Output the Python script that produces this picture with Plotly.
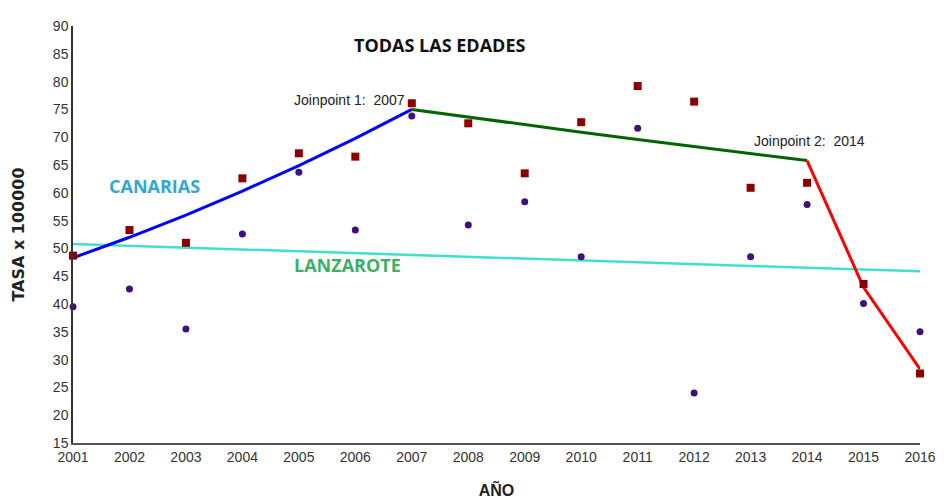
import plotly.graph_objects as go

years = list(range(2001, 2017))
canarias = [48.7, 53.3, 51.0, 62.6, 67.1, 66.5, 76.1, 72.5, 63.5, 72.7, 79.2, 76.4, 60.9, 61.8, 43.6, 27.5]
lanzarote = [39.5, 42.7, 35.5, 52.6, 63.7, 53.3, 73.8, 54.2, 58.4, 48.5, 71.6, 24.0, 48.5, 57.9, 40.1, 35.0]

seg1_years = [2001, 2002, 2003, 2004, 2005, 2006, 2007]
seg1_fit = [48.3, 52.0, 56.0, 60.3, 64.9, 69.8, 75.0]
seg2_years = [2007, 2008, 2009, 2010, 2011, 2012, 2013, 2014]
seg2_fit = [75.0, 73.6, 72.2, 70.9, 69.6, 68.3, 67.0, 65.8]
seg3_years = [2014, 2015, 2016]
seg3_fit = [65.8, 43.0, 28.3]
lanz_fit = [50.8, 50.46, 50.12, 49.78, 49.44, 49.11, 48.78, 48.45, 48.12, 47.80,
            47.48, 47.16, 46.84, 46.53, 46.21, 45.90]

fig = go.Figure()
fig.add_trace(go.Scatter(x=years, y=lanz_fit, mode="lines",
                         line=dict(color="#40e0d0", width=2.5), cliponaxis=False))
fig.add_trace(go.Scatter(x=seg1_years, y=seg1_fit, mode="lines",
                         line=dict(color="#0000ff", width=3), cliponaxis=False))
fig.add_trace(go.Scatter(x=seg2_years, y=seg2_fit, mode="lines",
                         line=dict(color="#006400", width=3), cliponaxis=False))
fig.add_trace(go.Scatter(x=seg3_years, y=seg3_fit, mode="lines",
                         line=dict(color="#ff0000", width=3), cliponaxis=False))
fig.add_trace(go.Scatter(x=years, y=canarias, mode="markers",
                         marker=dict(symbol="square", size=8, color="#8b0000"), cliponaxis=False))
fig.add_trace(go.Scatter(x=years, y=lanzarote, mode="markers",
                         marker=dict(symbol="circle", size=7, color="#3f0f7a"), cliponaxis=False))

tick_font = dict(family="Liberation Sans, Arial, sans-serif", size=14, color="#333")
ann_font = dict(family="Liberation Sans, Arial, sans-serif", size=14, color="#222")
fig.update_layout(
    width=944, height=502,
    margin=dict(l=65, r=32, t=10, b=67),
    paper_bgcolor="white", plot_bgcolor="white",
    showlegend=False,
    xaxis=dict(range=[2001, 2016], tickvals=years, ticktext=[str(y) for y in years],
               showgrid=False, zeroline=False, showline=True, linecolor="#555", linewidth=2,
               ticks="", tickfont=tick_font,
               title=dict(text="<b>AÑO</b>", standoff=21,
                          font=dict(family="Liberation Sans, Arial, sans-serif", size=16, color="#222"))),
    yaxis=dict(range=[15, 90], tickvals=list(range(15, 91, 5)),
               showgrid=False, zeroline=False, showline=True, linecolor="#333", linewidth=1.5,
               ticks="", tickfont=tick_font,
               title=dict(text="<b>TASA x 100000</b>", standoff=24,
                          font=dict(family="DejaVu Sans, sans-serif", size=16, color="#222"))),
)
fig.add_annotation(x=0.433, y=1.0, xref="paper", yref="paper", yshift=-5,
                   text="<b>TODAS LAS EDADES</b>", showarrow=False, yanchor="top",
                   font=dict(family="Open Sans, sans-serif", size=18, color="#111"))
fig.add_annotation(x=2002.45, y=61.3, xref="x", yref="y", text="<b>CANARIAS</b>", showarrow=False,
                   font=dict(family="Open Sans, sans-serif", size=18, color="#30a8d4"))
fig.add_annotation(x=2005.86, y=47.1, xref="x", yref="y", text="<b>LANZAROTE</b>", showarrow=False,
                   font=dict(family="Open Sans, sans-serif", size=18, color="#3cb064"))
fig.add_annotation(x=2007, y=75.0, xref="x", yref="y", text="Joinpoint 1:\u00a0\u00a02007",
                   showarrow=False, xanchor="right", yanchor="bottom", xshift=-5, yshift=-1, font=ann_font)
fig.add_annotation(x=2014, y=65.8, xref="x", yref="y", text="Joinpoint 2:\u00a0\u00a02014",
                   showarrow=False, xanchor="left", yanchor="bottom", xshift=-55, yshift=10, font=ann_font)

fig.write_html("out.html")
